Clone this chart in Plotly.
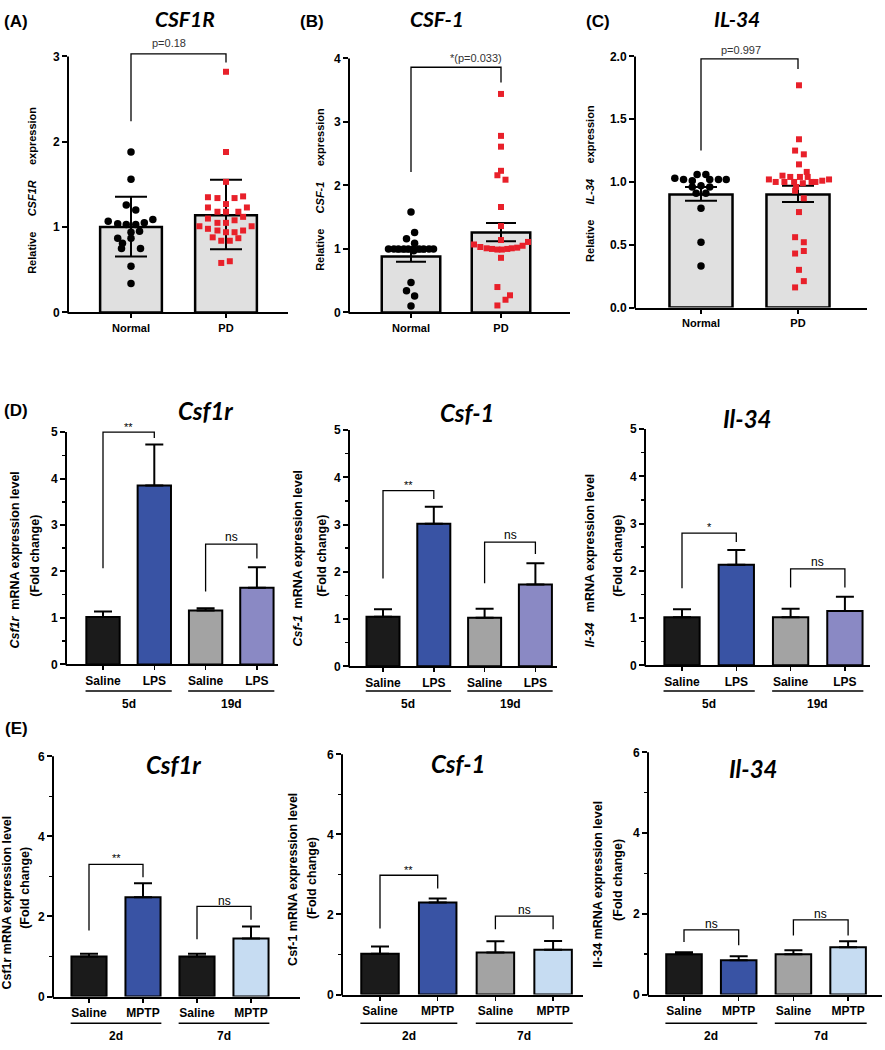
import plotly.graph_objects as go

W, H = 885, 1050
AXF = "Liberation Sans"
TTF = "Lato"

# ======================= DATA =======================
human_groups = ["Normal", "PD"]

# (A) CSF1R
csf1r_bar = [1.00, 1.14]
csf1r_err_up = [0.355, 0.415]
csf1r_err_dn = [0.345, 0.40]
csf1r_normal = [1.88, 1.56, 1.26, 1.20, 1.07, 1.04, 1.03, 1.03, 1.05, 1.09,
                0.94, 0.95, 0.87, 0.87, 0.81, 0.75, 0.75, 0.54, 0.34]
csf1r_normal_jit = [0, 0, -0.05, 0.05, -0.24, -0.14, -0.05, 0.05, 0.14, 0.23,
                    0.0, 0.09, -0.14, 0.0, -0.09, -0.1, 0.1, 0, 0]
csf1r_pd = [2.82, 1.88, 1.53, 1.35, 1.34, 1.34, 1.36, 1.23, 1.27, 1.23,
            1.18, 1.18, 1.18, 1.10, 1.05, 1.05, 1.08, 1.12, 1.01, 1.01,
            0.98, 0.96, 0.94, 0.94, 0.96, 0.88, 0.84, 0.84, 0.87, 0.58, 0.60]
csf1r_pd_jit = [0, 0, 0, -0.19, -0.09, 0.09, 0.18, -0.19, 0, 0.22,
                -0.09, 0, 0.13, -0.19, -0.09, 0, 0.09, 0.18, -0.28, 0.27,
                -0.19, -0.09, 0, 0.09, 0.18, -0.14, -0.05, 0.04, 0.13, -0.05, 0.04]

# (B) CSF-1
csf1_bar = [0.88, 1.26]
csf1_err_up = [0.08, 0.15]
csf1_err_dn = [0.08, 0.14]
csf1_normal = [1.58, 1.26, 1.16, 1.09, 1.0, 1.0, 1.0, 1.0, 1.0, 1.0, 1.0, 1.0,
               1.0, 1.0, 0.97, 0.47, 0.34, 0.26, 0.10]
csf1_normal_jit = [0, 0.04, -0.05, 0.04, -0.25, -0.19, -0.14, -0.08, -0.03, 0.03,
                   0.09, 0.14, 0.2, 0.25, 0.03, 0, -0.05, 0.04, 0]
csf1_pd = [3.44, 2.78, 2.61, 2.23, 2.16, 2.09, 1.66, 1.36, 1.14,
           1.07, 1.03, 1.01, 1.0, 0.99, 0.99, 1.0, 1.01, 1.02, 1.05, 1.11,
           0.86, 0.40, 0.27, 0.20, 0.11]
csf1_pd_jit = [0, 0, 0, 0, -0.04, 0.05, 0, 0, 0,
               -0.3, -0.23, -0.16, -0.1, -0.04, 0.01, 0.07, 0.12, 0.18, 0.24, 0.3,
               0, -0.04, 0.1, 0.05, -0.04]

# (C) IL-34
il34_bar = [0.90, 0.90]
il34_err_up = [0.06, 0.07]
il34_err_dn = [0.05, 0.06]
il34_normal = [1.03, 1.02, 1.01, 1.06, 1.06, 1.02, 1.02, 1.02, 0.96, 0.97, 0.96,
               0.91, 0.91, 0.79, 0.52, 0.33]
il34_normal_jit = [-0.27, -0.18, -0.09, -0.04, 0.05, 0.09, 0.18, 0.26, -0.09, 0, 0.09,
                   -0.05, 0.05, 0, 0, 0]
il34_pd = [1.77, 1.34, 1.25, 1.22, 1.14, 1.08,
           1.02, 1.0, 1.05, 1.04, 1.0, 1.04, 1.04, 1.0, 1.01, 1.02,
           1.0, 0.99, 1.0, 0.96, 0.93, 0.87, 0.76,
           0.56, 0.52, 0.43, 0.45, 0.30, 0.21, 0.16]
il34_pd_jit = [0.01, 0.01, -0.03, 0.06, 0.01, 0.09,
               -0.3, -0.23, -0.16, -0.08, -0.14, 0.02, 0.1, 0.18, 0.25, 0.32,
               -0.04, 0.05, 0.14, -0.02, -0.03, 0.06, 0.01,
               -0.03, 0.06, -0.03, 0.06, 0.01, 0.06, -0.03]

# significance brackets for A-C: (left leg bottom, top, right leg bottom)
human_brackets = [(2.24, 3.03, 2.93), (2.21, 3.86, 3.62), (1.25, 1.98, 1.90)]
human_ptext = ["p=0.18", "*(p=0.033)", "p=0.997"]
human_ptext_pos = [(0.40, 3.16), (0.72, 4.0), (0.41, 2.05)]

# (D) LPS model
lps_groups = ["Saline", "LPS", "Saline", "LPS"]
lps_days = ["5d", "19d"]
lps_csf1r = [1.02, 3.85, 1.16, 1.65]
lps_csf1r_err = [0.12, 0.88, 0.05, 0.44]
lps_csf1 = [1.05, 3.02, 1.03, 1.73]
lps_csf1_err = [0.16, 0.36, 0.19, 0.45]
lps_il34 = [1.02, 2.13, 1.02, 1.15]
lps_il34_err = [0.17, 0.31, 0.18, 0.30]
lps_colors = ["#1b1b1b", "#3953a4", "#a3a3a3", "#8a89c4"]
lps_brackets = [
    [(2.07, 5.0, 4.87, "**", 5.10), (1.57, 2.59, 2.28, "ns", 2.75)],
    [(1.86, 3.72, 3.54, "**", 3.84), (1.76, 2.63, 2.38, "ns", 2.79)],
    [(1.63, 2.80, 2.61, "*", 2.92), (1.65, 2.04, 1.65, "ns", 2.18)],
]

# (E) MPTP model
mptp_groups = ["Saline", "MPTP", "Saline", "MPTP"]
mptp_days = ["2d", "7d"]
mptp_csf1r = [1.00, 2.48, 1.00, 1.45]
mptp_csf1r_err = [0.07, 0.35, 0.07, 0.30]
mptp_csf1 = [1.02, 2.30, 1.05, 1.12]
mptp_csf1_err = [0.18, 0.10, 0.28, 0.22]
mptp_il34 = [1.00, 0.85, 1.00, 1.17]
mptp_il34_err = [0.05, 0.10, 0.10, 0.15]
mptp_colors_1 = ["#1b1b1b", "#3953a4", "#1b1b1b", "#c6dcf2"]
mptp_colors_2 = ["#1b1b1b", "#3953a4", "#a3a3a3", "#c6dcf2"]
mptp_brackets = [
    [(1.65, 3.30, 2.98, "**", 3.45), (1.43, 2.25, 1.92, "ns", 2.38)],
    [(1.65, 2.98, 2.65, "**", 3.12), (1.63, 1.96, 1.63, "ns", 2.10)],
    [(1.30, 1.60, 1.22, "ns", 1.74), (1.46, 1.85, 1.46, "ns", 1.99)],
]

# ======================= FIGURE =======================
fig = go.Figure()
shapes = []
annots = []


def setup_axes(n, L, R, y0px, ymaxpx, ymax, c0, sp, ytop, yticks, cats,
               yminor=None, yfmt=None, xfs=11):
    ppv = (y0px - ymaxpx) / ymax
    s = "" if n == 1 else str(n)
    top_px = y0px - ytop * ppv
    fig.layout[f"xaxis{s}"] = dict(
        domain=[L / W, R / W], range=[(L - c0) / sp, (R - c0) / sp], anchor=f"y{s}",
        showline=True, linewidth=2, linecolor="black", ticks="outside", ticklen=4,
        tickwidth=1.5, tickcolor="black", showgrid=False, zeroline=False,
        tickvals=list(range(len(cats))), ticktext=cats,
        tickfont=dict(family=AXF, size=xfs, color="black", weight="bold"))
    ya = dict(
        domain=[1 - y0px / H, 1 - top_px / H], range=[0, ytop], anchor=f"x{s}",
        showline=False, ticks="outside", ticklen=5, tickwidth=2, tickcolor="black",
        tickvals=yticks, showgrid=False, zeroline=False,
        tickfont=dict(family=AXF, size=12, color="black", weight="bold"))
    if yfmt:
        ya["tickformat"] = yfmt
    if yminor:
        ya["minor"] = dict(tickvals=yminor, ticks="outside", ticklen=3, tickwidth=1.5,
                           tickcolor="black", showgrid=False)
    fig.layout[f"yaxis{s}"] = ya
    shapes.append(dict(type="line", xref="paper", yref="paper", x0=L / W, x1=L / W,
                       y0=1 - (y0px + 1) / H, y1=1 - ymaxpx / H,
                       line=dict(color="black", width=2)))
    return dict(xa=f"x{s}", ya=f"y{s}", px=lambda v: (c0 + v * sp) / W)


def bracket(geo, a, b, yl, yt, yr, width=1.3):
    shapes.append(dict(type="path", xref=geo["xa"], yref=geo["ya"],
                       path=f"M {a},{yl} L {a},{yt} L {b},{yt} L {b},{yr}",
                       line=dict(color="black", width=width)))


def text(x, y, t, xref="paper", yref="paper", size=12, bold=False, italic=False,
         family=AXF, angle=0, color="black"):
    annots.append(dict(x=x, y=y, xref=xref, yref=yref, text=t, showarrow=False,
                       xanchor="center", yanchor="middle", textangle=angle,
                       font=dict(family=family, size=size, color=color,
                                 weight="bold" if bold else "normal",
                                 style="italic" if italic else "normal")))


def P(px):
    return px / W


def Q(py):
    return 1 - py / H


# ---------------- human panels A-C ----------------
human_geo = [
    setup_axes(1, 68, 288, 311, 52, 3, 131, 95, 3.2, [0, 1, 2, 3], human_groups),
    setup_axes(2, 349, 570, 311, 54, 4, 411, 90, 4.1, [0, 1, 2, 3, 4], human_groups),
    setup_axes(3, 635, 867, 306, 52, 2, 701, 97, 2.08, [0, 0.5, 1.0, 1.5, 2.0],
               human_groups, yfmt=".1f"),
]
human_sets = [
    (csf1r_bar, csf1r_err_up, csf1r_err_dn, csf1r_normal, csf1r_normal_jit, csf1r_pd, csf1r_pd_jit, 16),
    (csf1_bar, csf1_err_up, csf1_err_dn, csf1_normal, csf1_normal_jit, csf1_pd, csf1_pd_jit, 15),
    (il34_bar, il34_err_up, il34_err_dn, il34_normal, il34_normal_jit, il34_pd, il34_pd_jit, 16),
]
for i, (geo, d) in enumerate(zip(human_geo, human_sets)):
    bar, up, dn, nv, nj, pv, pj, cap = d
    fig.add_trace(go.Bar(
        x=[0, 1], y=bar, width=0.65, xaxis=geo["xa"], yaxis=geo["ya"],
        marker=dict(color="#e0e0e0", line=dict(color="black", width=2.5)),
        error_y=dict(type="data", symmetric=False, array=up, arrayminus=dn,
                     color="black", thickness=2, width=cap),
        hoverinfo="skip"))
    fig.add_trace(go.Scatter(
        x=[0 + j for j in nj], y=nv, mode="markers", xaxis=geo["xa"], yaxis=geo["ya"],
        marker=dict(symbol="circle", size=7.5, color="black"), cliponaxis=False,
        hoverinfo="skip"))
    fig.add_trace(go.Scatter(
        x=[1 + j for j in pj], y=pv, mode="markers", xaxis=geo["xa"], yaxis=geo["ya"],
        marker=dict(symbol="square", size=6, color="#e8202a"), cliponaxis=False,
        hoverinfo="skip"))
    yl, yt, yr = human_brackets[i]
    bracket(geo, 0, 1, yl, yt, yr)
    tx, ty = human_ptext_pos[i]
    text(tx, ty, human_ptext[i], xref=geo["xa"], yref=geo["ya"], size=11, color="#333333")

# human titles & labels
text(P(16), Q(17), "(A)", size=17, bold=True)
text(P(312), Q(17), "(B)", size=17, bold=True)
text(P(598), Q(17), "(C)", size=17, bold=True)
text(P(185), Q(14), "CSF1R", size=21, bold=True, italic=True, family=TTF)
text(P(437), Q(14), "CSF-1", size=21, bold=True, italic=True, family=TTF)
text(P(737), Q(14), "IL-34", size=21, bold=True, italic=True, family=TTF)
nb = "\u00a0" * 5
text(P(32), Q(188), f"Relative{nb}<i>CSF1R</i>{nb}expression", size=11, bold=True, angle=-90)
text(P(320), Q(187), f"Relative{nb}<i>CSF-1</i>{nb}expression", size=11, bold=True, angle=-90)
text(P(590), Q(181), f"Relative{nb}<i>IL-34</i>{nb}expression", size=11, bold=True, angle=-90)

# ---------------- mouse panels D & E ----------------
d_minor = [0.5, 1.5, 2.5, 3.5, 4.5]
e_minor = [1, 3, 5]
lps_geo = [
    setup_axes(4, 66, 278, 667, 432, 5, 103, 51.3, 5.1, [0, 1, 2, 3, 4, 5], lps_groups, d_minor, xfs=12),
    setup_axes(5, 349, 557, 669, 430, 5, 383, 50.8, 5.1, [0, 1, 2, 3, 4, 5], lps_groups, d_minor, xfs=12),
    setup_axes(6, 645, 870, 668, 429, 5, 682, 54.3, 5.1, [0, 1, 2, 3, 4, 5], lps_groups, d_minor, xfs=12),
]
mptp_geo = [
    setup_axes(7, 53, 300, 1003, 760, 6, 89, 54, 6.05, [0, 2, 4, 6], mptp_groups, e_minor, xfs=12),
    setup_axes(8, 342, 583, 1001, 758, 6, 380, 57.7, 6.05, [0, 2, 4, 6], mptp_groups, e_minor, xfs=12),
    setup_axes(9, 648, 882, 1001, 756, 6, 684, 54.7, 6.05, [0, 2, 4, 6], mptp_groups, e_minor, xfs=12),
]

lps_sets = [(lps_csf1r, lps_csf1r_err), (lps_csf1, lps_csf1_err), (lps_il34, lps_il34_err)]
mptp_sets = [(mptp_csf1r, mptp_csf1r_err), (mptp_csf1, mptp_csf1_err), (mptp_il34, mptp_il34_err)]
mptp_cols = [mptp_colors_1, mptp_colors_2, mptp_colors_2]


def mouse_panel(geo, vals, errs, cols, brks, days, uy, gy):
    fig.add_trace(go.Bar(
        x=list(range(len(vals))), y=vals, width=0.65, xaxis=geo["xa"], yaxis=geo["ya"],
        marker=dict(color=cols, line=dict(color="black", width=2)),
        error_y=dict(type="data", symmetric=False, array=errs, arrayminus=[0] * len(errs),
                     color="black", thickness=2, width=9),
        hoverinfo="skip"))
    for k, (yl, yt, yr, lab, ly) in enumerate(brks):
        a, b = 2 * k, 2 * k + 1
        bracket(geo, a, b, yl, yt, yr)
        text((a + b) / 2, ly, lab, xref=geo["xa"], yref=geo["ya"], size=12 if lab == "ns" else 11)
        shapes.append(dict(type="line", xref="paper", yref="paper",
                           x0=geo["px"](a - 0.34), x1=geo["px"](b + 0.34), y0=Q(uy), y1=Q(uy),
                           line=dict(color="black", width=1.5)))
        text((a + b) / 2, Q(gy), days[k], xref=geo["xa"], size=12, bold=True)


for geo, (v, e), brks in zip(lps_geo, lps_sets, lps_brackets):
    mouse_panel(geo, v, e, lps_colors, brks, lps_days, 694, 707)
for geo, (v, e), cols, brks in zip(mptp_geo, mptp_sets, mptp_cols, mptp_brackets):
    mouse_panel(geo, v, e, cols, brks, mptp_days, 1030, 1043)

text(P(16), Q(410), "(D)", size=17, bold=True)
text(P(16), Q(732), "(E)", size=17, bold=True)
text(P(205), Q(410), "Csf1r", size=24, bold=True, italic=True, family=TTF)
text(P(467), Q(412), "Csf-1", size=24, bold=True, italic=True, family=TTF)
text(P(747), Q(418), "Il-34", size=24, bold=True, italic=True, family=TTF)
text(P(173), Q(768), "Csf1r", size=24, bold=True, italic=True, family=TTF)
text(P(458), Q(767), "Csf-1", size=24, bold=True, italic=True, family=TTF)
text(P(753), Q(772), "Il-34", size=24, bold=True, italic=True, family=TTF)

YT = 12.5
text(P(15), Q(562), "<i>Csf1r</i>\u00a0\u00a0mRNA expression level", size=YT, bold=True, angle=-90)
text(P(35), Q(557), "(Fold change)", size=YT, bold=True, angle=-90)
text(P(298), Q(560), "<i>Csf-1</i>\u00a0\u00a0mRNA expression level", size=YT, bold=True, angle=-90)
text(P(322), Q(557), "(Fold change)", size=YT, bold=True, angle=-90)
text(P(590), Q(562), "<i>Il-34</i>\u00a0\u00a0\u00a0mRNA expression level", size=YT, bold=True, angle=-90)
text(P(618), Q(557), "(Fold change)", size=YT, bold=True, angle=-90)

text(P(7), Q(908), "Csf1r mRNA expression level", size=YT, bold=True, angle=-90)
text(P(25), Q(893), "(Fold change)", size=YT, bold=True, angle=-90)
text(P(293), Q(885), "Csf-1 mRNA expression level", size=YT, bold=True, angle=-90)
text(P(312), Q(883), "(Fold change)", size=YT, bold=True, angle=-90)
text(P(598), Q(890), "Il-34 mRNA expression level", size=YT, bold=True, angle=-90)
text(P(618), Q(885), "(Fold change)", size=YT, bold=True, angle=-90)

fig.update_layout(
    width=W, height=H, margin=dict(l=0, r=0, t=0, b=0),
    paper_bgcolor="white", plot_bgcolor="white", showlegend=False,
    shapes=shapes, annotations=annots,
)
fig.write_html("out.html", config={"displayModeBar": False, "staticPlot": True},
               post_script="document.body.style.margin='0';document.body.style.padding='0';")
